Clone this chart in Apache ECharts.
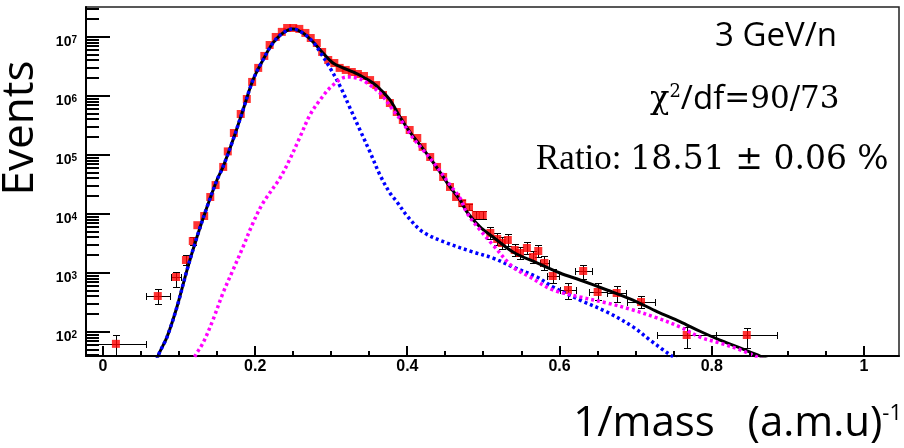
<!DOCTYPE html>
<html><head><meta charset="utf-8">
<script src="https://cdn.jsdelivr.net/npm/echarts@6/dist/echarts.min.js"></script>
<style>html,body{margin:0;padding:0;background:#fff}#c{width:904px;height:448px}</style>
</head><body><div id="c"></div>
<script>
// ---- measured data points (1/mass, events) ----
const dataX = [0.017,0.072,0.096,0.109,0.118,0.124,0.133,0.141,0.148,0.158,0.164,0.172,0.181,0.189,0.196,0.204,0.212,0.219,0.227,0.235,0.242,0.250,0.258,0.266,0.273,0.281,0.288,0.296,0.304,0.311,0.319,0.327,0.335,0.343,0.351,0.359,0.368,0.377,0.386,0.394,0.403,0.413,0.420,0.430,0.439,0.447,0.456,0.464,0.472,0.481,0.490,0.499,0.509,0.518,0.524,0.532,0.541,0.548,0.557,0.565,0.572,0.580,0.591,0.611,0.631,0.650,0.675,0.707,0.767,0.846];
const dataY = [63,407,855,1660,3480,6460,9240,19400,30900,62700,115000,236000,495000,889000,1730000,2990000,4770000,7310000,10000000,12200000,14200000,14200000,13700000,11700000,9600000,7900000,5570000,4070000,3620000,2990000,2760000,2550000,2360000,2180000,1860000,1530000,1040000,760000,535000,392000,265000,194000,137000,92500,62700,42400,28700,19400,15300,13100,9620,9620,4770,3770,3220,3620,2450,2180,2650,1870,2360,1480,889,515,1080,476,458,322,89,89];
// half-width of x error bars (null: hidden under marker)
const errX = [0.039,0.016,0.006,null,null,null,null,null,null,null,null,null,null,null,null,null,null,null,null,null,null,null,null,null,null,null,null,null,null,null,null,null,null,null,null,null,null,null,null,null,null,null,null,null,null,null,null,null,null,null,null,null,null,null,null,null,null,null,null,null,null,0.006,0.008,0.0105,0.011,0.012,0.0125,0.019,0.039,0.040];
// lower / upper ends of y error bars (null: hidden under marker)
const errYLo = [37,299,580,1370,2980,null,null,null,null,null,null,null,null,null,null,null,null,null,null,null,null,null,null,null,null,null,null,null,null,null,null,null,null,null,null,null,null,null,null,null,null,null,null,null,null,null,null,null,13600,11600,8250,8250,3770,2980,2550,2860,1940,1720,2100,1480,1870,1130,678,362,791,348,322,255,54,54];
const errYHi = [89,536,1040,2020,4070,null,null,null,null,null,null,null,null,null,null,null,null,null,null,null,null,null,null,null,null,null,null,null,null,null,null,null,null,null,null,null,null,null,null,null,null,null,null,null,null,null,null,null,17200,14700,11200,11200,6030,4770,4070,4580,3100,2760,3350,2360,2980,1950,1170,676,1370,676,603,407,122,117];

// ---- total fit (black) ----
const totalX = [0.067,0.0723,0.0841,0.0972,0.1104,0.1235,0.1367,0.1498,0.1577,0.1708,0.1840,0.1971,0.2102,0.2234,0.2365,0.2497,0.2628,0.2760,0.2891,0.3022,0.3154,0.3285,0.3417,0.3548,0.3640,0.3771,0.3903,0.4034,0.4166,0.4297,0.4428,0.4560,0.4691,0.4783,0.4954,0.5125,0.5388,0.5703,0.6005,0.6268,0.6623,0.6965,0.7280,0.7582,0.7845,0.8108,0.8371,0.8634,0.8765];
const totalY = [21,39,82,265,1120,4070,13100,37700,62700,179000,579000,1870000,4070000,7910000,11700000,13700000,11700000,8220000,5360000,3620000,2990000,2550000,2100000,1660000,1310000,855000,441000,245000,148000,88900,51500,28700,17300,10800,6030,4070,2270,1480,1000,760,515,348,222,150,103,73,54,39,33];
// ---- component 1 (blue dotted) ----
const comp1X = [0.067,0.0723,0.0841,0.0972,0.1104,0.1235,0.1367,0.1498,0.1577,0.1708,0.1840,0.1971,0.2102,0.2234,0.2365,0.2497,0.2628,0.2760,0.2852,0.2983,0.3114,0.3246,0.3377,0.3509,0.3640,0.3771,0.3863,0.4008,0.4205,0.4520,0.4862,0.5125,0.5388,0.5703,0.5913,0.6268,0.6623,0.6965,0.7188,0.7359,0.7477,0.7582];
const comp1Y = [21,39,82,265,1120,4070,13100,37700,62700,179000,579000,1870000,4070000,7910000,11700000,13700000,11700000,8220000,5570000,2990000,1480000,627000,265000,112000,45800,22700,16000,8890,4950,3220,2270,1790,1260,855,580,348,218,122,73,50,39,31];
// ---- component 2 (magenta dotted) ----
const comp2X = [0.1143,0.1209,0.1314,0.1445,0.1577,0.1708,0.1840,0.1971,0.2102,0.2326,0.2457,0.2589,0.2720,0.2852,0.3022,0.3206,0.3377,0.3509,0.3640,0.3811,0.3942,0.4074,0.4205,0.4389,0.4560,0.4691,0.4783,0.4954,0.5125,0.5388,0.5611,0.5913,0.6268,0.6623,0.6965,0.7280,0.7582,0.7845,0.8108,0.8371,0.8568,0.8699];
const comp2Y = [24.5,39,65,160,458,1120,2760,7030,15300,40700,85500,202000,476000,855000,1530000,2100000,1940000,1530000,1120000,579000,348000,194000,122000,62700,31000,18700,10400,5360,2980,1260,855,515,392,310,236,173,122,82,65,50,39,32];

// ---- axes ----
const X_MIN = -0.0223, X_MAX = 1.046;
const Y_MIN = 39.2, Y_MAX = 3.22e7;
const yTickExponents = [2,3,4,5,6,7];
const yMinorMultipliers = [2,3,4,5,6,7,8,9];
const xMajorStep = 0.2, xMinorStep = 0.05;

// tick marks, placed through the axes' own scales: [x, y, length, orientation(0=x axis,1=y axis)]
const ticks = [];
for (let e = 1; e <= 7; e++) {
  const d = Math.pow(10, e);
  if (d > Y_MIN && d < Y_MAX) ticks.push([0.5, d, 24, 1]);
  for (const k of yMinorMultipliers) {
    const v = k * d;
    if (v > Y_MIN && v < Y_MAX) ticks.push([0.5, v, 13, 1]);
  }
}
for (let i = 0; i * xMinorStep < X_MAX; i++) {
  const v = +(i * xMinorStep).toFixed(4);
  const major = Math.abs(v / xMajorStep - Math.round(v / xMajorStep)) < 1e-6;
  ticks.push([v, 1000, major ? 10 : 5, 0]);
}

const pairs = (xs, ys) => xs.map((x, i) => [x, ys[i]]);

const chart = echarts.init(document.getElementById('c'), null, {renderer: 'canvas', width: 904, height: 448});

const lbl = {fontFamily: 'Liberation Sans', fontWeight: 'bold', color: '#000'};
const crisp = v => Math.round(v) + 0.5;

chart.setOption({
  animation: false,
  backgroundColor: '#fff',
  grid: {left: 86, right: 5, top: 7, bottom: 92, show: true, borderColor: '#222', borderWidth: 1.5, containLabel: false},
  xAxis: {
    type: 'value', min: X_MIN, max: X_MAX, splitNumber: 5,
    axisLine: {show: true, onZero: false, lineStyle: {color: '#000', width: 2}},
    axisTick: {show: false},
    minorTick: {show: false},
    splitLine: {show: false}, minorSplitLine: {show: false},
    axisLabel: Object.assign({fontSize: 16, margin: 3, showMinLabel: false, showMaxLabel: false}, lbl)
  },
  yAxis: {
    type: 'log', logBase: 10, min: Y_MIN, max: Y_MAX,
    axisLine: {show: true, onZero: false, lineStyle: {color: '#000', width: 2}},
    axisTick: {show: false},
    splitLine: {show: false},
    axisLabel: {
      margin: 9, showMinLabel: false, showMaxLabel: false,
      formatter: function (v) {
        const e = Math.round(Math.log10(v));
        if (Math.abs(Math.log10(v) - e) > 1e-6 || yTickExponents.indexOf(e) < 0) return '';
        return '{b|10}{s|' + e + '}';
      },
      rich: {
        b: Object.assign({fontSize: 14, lineHeight: 14, padding: [10, 0, 0, 0]}, lbl),
        s: Object.assign({fontSize: 10, lineHeight: 10, padding: [5, 0, 0, 0], verticalAlign: 'top'}, lbl)
      }
    }
  },
  series: [
    {
      type: 'custom', name: 'errors', coordinateSystem: 'cartesian2d', clip: true, silent: true, z: 2,
      data: pairs(dataX, dataY),
      renderItem: function (params, api) {
        const i = params.dataIndex;
        const x = api.value(0), y = api.value(1);
        const c = api.coord([x, y]);
        const ch = [];
        const st = {stroke: '#000', lineWidth: 1};
        const cap = 3.5;
        const cx = crisp(c[0]), cy = crisp(c[1]);
        if (errYLo[i] != null) {
          const lo = api.coord([x, errYLo[i]]), hi = api.coord([x, errYHi[i]]);
          const ly = crisp(lo[1]), hy = crisp(hi[1]);
          ch.push({type: 'line', shape: {x1: cx, y1: hy, x2: cx, y2: ly}, style: st});
          ch.push({type: 'line', shape: {x1: cx - cap, y1: hy, x2: cx + cap, y2: hy}, style: st});
          ch.push({type: 'line', shape: {x1: cx - cap, y1: ly, x2: cx + cap, y2: ly}, style: st});
        }
        if (errX[i] != null) {
          const l = api.coord([x - errX[i], y]), r = api.coord([x + errX[i], y]);
          const lx = crisp(l[0]), rx = crisp(r[0]);
          ch.push({type: 'line', shape: {x1: lx, y1: cy, x2: rx, y2: cy}, style: st});
          ch.push({type: 'line', shape: {x1: lx, y1: cy - cap, x2: lx, y2: cy + cap}, style: st});
          ch.push({type: 'line', shape: {x1: rx, y1: cy - cap, x2: rx, y2: cy + cap}, style: st});
        }
        return {type: 'group', children: ch};
      }
    },
    {
      type: 'scatter', name: 'data', data: pairs(dataX, dataY), symbol: 'rect', symbolSize: 8,
      itemStyle: {color: '#ff0000'}, z: 3, silent: true
    },
    {
      type: 'line', name: 'total', data: pairs(totalX, totalY), showSymbol: false, symbol: 'none', smooth: 0.35,
      lineStyle: {color: '#000', width: 3}, z: 4, clip: true, silent: true
    },
    {
      type: 'line', name: 'comp1', data: pairs(comp1X, comp1Y), showSymbol: false, symbol: 'none', smooth: 0.35,
      lineStyle: {color: '#0000ff', width: 3.5, type: [3, 3]}, z: 5, clip: true, silent: true
    },
    {
      type: 'line', name: 'comp2', data: pairs(comp2X, comp2Y), showSymbol: false, symbol: 'none', smooth: 0.35,
      lineStyle: {color: '#ff00ff', width: 3.5, type: [3, 3]}, z: 6, clip: true, silent: true
    },
    {
      type: 'custom', name: 'ticks', coordinateSystem: 'cartesian2d', clip: false, silent: true, z: 7,
      data: ticks,
      renderItem: function (params, api) {
        const cs = params.coordSys;
        const p = api.coord([api.value(0), api.value(1)]);
        const len = api.value(2);
        const st = {stroke: '#000', lineWidth: 2};
        if (api.value(3) === 1) {
          const y = Math.round(p[1]);
          return {type: 'line', shape: {x1: cs.x, y1: y, x2: cs.x + len, y2: y}, style: st};
        }
        const x = Math.round(p[0]);
        const yb = cs.y + cs.height;
        return {type: 'line', shape: {x1: x, y1: yb, x2: x, y2: yb - len}, style: st};
      }
    }
  ],
  graphic: [
    {type: 'text', x: 20, y: 128, rotation: Math.PI / 2,
     style: {text: 'Events', fontFamily: 'Open Sans', fontSize: 44, fill: '#000', align: 'center', verticalAlign: 'middle'}},
    {type: 'text', x: 902, y: 424,
     style: {text: '{a|1/mass   (a.m.u)}{b|-1}', align: 'right', verticalAlign: 'middle',
       rich: {a: {fontFamily: 'Open Sans', fontSize: 42, fill: '#000'},
              b: {fontFamily: 'Open Sans', fontSize: 22, fill: '#000', verticalAlign: 'top'}}}},
    {type: 'text', x: 776, y: 37,
     style: {text: '3 GeV/n', fontFamily: 'Open Sans', fontSize: 33, fill: '#000', align: 'center', verticalAlign: 'middle'}},
    {type: 'text', x: 650, y: 100,
     style: {text: '{c|χ}{s|2}{d|/df}{n|=90/73}', align: 'left', verticalAlign: 'middle',
       rich: {c: {fontFamily: 'DejaVu Serif', fontSize: 32, fill: '#000'},
              s: {fontFamily: 'DejaVu Serif', fontSize: 18, fill: '#000', verticalAlign: 'top'},
              d: {fontFamily: 'Open Sans', fontSize: 33, fill: '#000'},
              n: {fontFamily: 'DejaVu Serif', fontSize: 31, fill: '#000'}}}},
    {type: 'text', x: 536, y: 160,
     style: {text: '{r|Ratio: }{n|18.51 ± 0.06 %}', align: 'left', verticalAlign: 'middle',
       rich: {r: {fontFamily: 'Liberation Serif', fontSize: 35, fill: '#000'},
              n: {fontFamily: 'DejaVu Serif', fontSize: 33, fill: '#000'}}}}
  ]
});
</script></body></html>
